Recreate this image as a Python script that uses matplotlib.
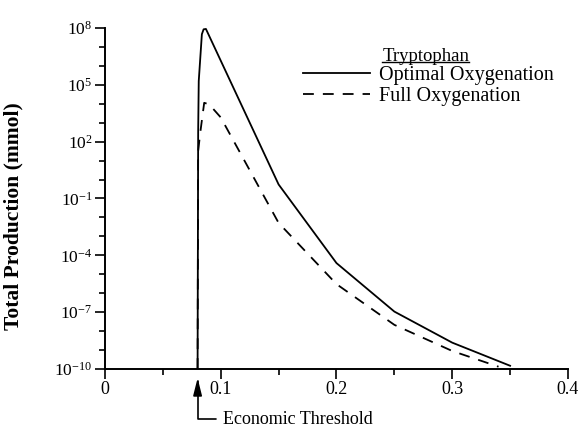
"""Tryptophan total production vs. threshold, log scale (Agg backend)."""

import matplotlib
import numpy as np

matplotlib.use("Agg")
import matplotlib.pyplot as plt
from matplotlib.lines import Line2D

plt.rcParams["font.family"] = "serif"
plt.rcParams["font.serif"] = ["Liberation Serif", "DejaVu Serif"]
plt.rcParams["mathtext.fontset"] = "custom"
plt.rcParams["mathtext.rm"] = "Liberation Serif"
plt.rcParams["mathtext.it"] = "Liberation Serif:italic"
plt.rcParams["mathtext.bf"] = "Liberation Serif:bold"
plt.rcParams["mathtext.default"] = "regular"

# values (x, log10 of production)
opt_x = [0.080, 0.0805, 0.081, 0.0837, 0.0852, 0.0872, 0.15, 0.20, 0.25, 0.30, 0.35]
opt_log = [-10.0, 2.5, 5.2, 7.67, 7.93, 7.95, -0.26, -4.41, -6.97, -8.61, -9.83]

full_x = [0.080, 0.0805, 0.0823, 0.0857, 0.09, 0.10, 0.15, 0.20, 0.25, 0.30, 0.34]
full_log = [-10.0, 1.5, 2.47, 4.05, 3.97, 3.28, -2.29, -5.52, -7.67, -9.05, -9.88]

threshold = 0.08
x_ticks = [0, 0.1, 0.2, 0.3, 0.4]
x_tick_labels = ["0", "0.1", "0.2", "0.3", "0.4"]
y_exps = [-10, -7, -4, -1, 2, 5, 8]

fig = plt.figure(figsize=(5.81, 4.3), dpi=100)
ax = fig.add_axes([0.1807, 0.1419, 0.7969, 0.7930])

ax.plot(opt_x, 10.0 ** np.array(opt_log), color="black", lw=1.3,
        label="Optimal Oxygenation")
ax.plot(full_x, 10.0 ** np.array(full_log), color="black", lw=1.3,
        dashes=(6, 5), label="Full Oxygenation")

ax.set_yscale("log")
ax.set_xlim(0, 0.4)
ax.set_ylim(1e-10, 1e8)

ax.set_xticks(x_ticks)
ax.set_xticklabels(x_tick_labels, fontsize=13)
ax.set_xticks(np.arange(0.05, 0.4, 0.1), minor=True)
ax.set_yticks([10.0 ** e for e in y_exps])
ax.set_yticklabels([f"$10^{{{e}}}$" for e in y_exps], fontsize=12.5)
ax.set_yticks(10.0 ** np.arange(-10, 9), minor=True)
ax.yaxis.set_minor_formatter(plt.NullFormatter())

ax.tick_params(which="major", direction="out", length=7, width=1.2, pad=2)
ax.tick_params(which="minor", direction="out", length=4, width=1.2)
for side in ("top", "right"):
    ax.spines[side].set_visible(False)
for side in ("left", "bottom"):
    ax.spines[side].set_linewidth(1.4)

ax.set_ylabel("Total Production (mmol)", fontsize=15.5, fontweight="bold")
ax.yaxis.set_label_coords(-0.177, 0.449)

# legend with a separate underlined heading
title = ax.text(0.693, 0.915, "Tryptophan", transform=ax.transAxes,
                ha="center", va="center", fontsize=13.5)
handles = [Line2D([], [], color="black", lw=1.3),
           Line2D([], [], color="black", lw=1.3, dashes=(6, 5))]
ax.legend(handles, ["Optimal Oxygenation", "Full Oxygenation"],
          loc="upper left", bbox_to_anchor=(0.428, 0.889), frameon=False,
          fontsize=14.5, handlelength=3.3, handletextpad=0.45,
          labelspacing=0.1, borderpad=0, borderaxespad=0)

ax.annotate("Economic Threshold", xy=(threshold, 1 - 378 / 430),
            xycoords=("data", "figure fraction"),
            xytext=(0.102, 1 - 419 / 430), textcoords=("data", "figure fraction"),
            ha="left", va="center", fontsize=13,
            arrowprops=dict(arrowstyle="-|>,head_length=0.8,head_width=0.2",
                            connectionstyle="angle,angleA=0,angleB=90,rad=0",
                            color="black", lw=1.2, shrinkA=3, shrinkB=0))

# underline the heading
fig.canvas.draw()
bb = title.get_window_extent().transformed(fig.transFigure.inverted())
fig.add_artist(Line2D([bb.x0, bb.x1], [bb.y0 + 0.009, bb.y0 + 0.009],
                      transform=fig.transFigure, color="black", lw=1.0))

fig.savefig("out.png", dpi=100)
plt.close(fig)
